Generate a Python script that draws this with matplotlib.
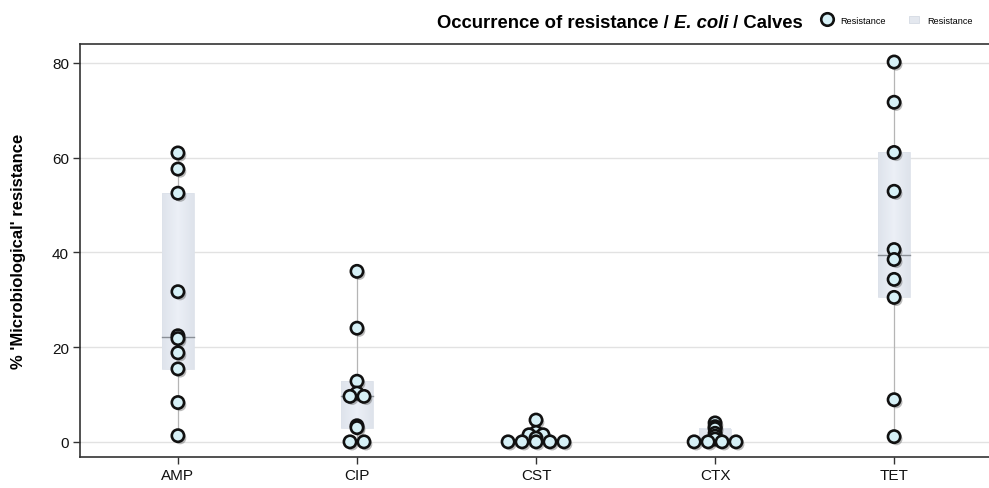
import numpy as np
import matplotlib
matplotlib.use("Agg")
import matplotlib.pyplot as plt
import matplotlib.patheffects as pe
from matplotlib.lines import Line2D
from matplotlib.patches import Patch

plt.rcParams['font.family'] = ['Liberation Sans', 'DejaVu Sans']

# Percent resistance per country for each antimicrobial
categories = ["AMP", "CIP", "CST", "CTX", "TET"]
amp = [61.0, 57.6, 52.5, 31.7, 22.4, 21.8, 18.8, 15.4, 8.3, 1.3]
cip = [36.0, 24.0, 12.8, 10.3, 9.6, 9.6, 3.4, 3.0, 0.0, 0.0]
cst = [4.6, 2.0, 1.5, 1.5, 0.8, 0.0, 0.0, 0.0, 0.0, 0.0]
ctx = [4.0, 3.2, 2.8, 1.8, 1.2, 0.6, 0.0, 0.0, 0.0, 0.0]
tet = [80.2, 71.7, 61.1, 52.9, 40.6, 38.5, 34.3, 30.5, 8.9, 1.1]
series = [amp, cip, cst, ctx, tet]
yticks = [0, 20, 40, 60, 80]

title_parts = [("Occurrence of resistance / ", "normal"),
               ("E. coli", "italic"),
               (" / Calves", "normal")]
ylabel = "% 'Microbiological' resistance"
legend_label = "Resistance"

marker_face = "#d6f0f6"
box_face = "#e4e8ef"
box_width = 0.175
dodge_step = 0.078

fig = plt.figure(figsize=(9.89, 4.89), dpi=100)
ax = fig.add_axes([80 / 989, 1 - 458 / 489, (989 - 80) / 989, (458 - 45) / 489])

ax.set_xlim(-0.547, 4.53)
ax.set_ylim(-3.2, 84.0)

# horizontal gradient used for the interquartile boxes
grad = np.linspace(0, 1, 64)
grad = 1 - 0.55 * np.abs(grad - 0.5) * 2
base = np.array(matplotlib.colors.to_rgb(box_face))
edge_col = np.array(matplotlib.colors.to_rgb("#d3d9e2"))
img = (edge_col[None, :] * (1 - grad[:, None]) + base[None, :] * grad[:, None])
img = np.clip(img + 0.03 * grad[:, None], 0, 1)[None, :, :]

for i, vals in enumerate(series):
    v = np.array(vals, dtype=float)
    q1, med, q3 = np.percentile(v, [25, 50, 75], method="averaged_inverted_cdf")
    # whisker line from min to max
    ax.plot([i, i], [v.min(), v.max()], color="#b5b5b5", lw=0.9, zorder=2)
    # interquartile box with soft gradient
    ax.imshow(img, extent=(i - box_width / 2, i + box_width / 2, q1, q3),
              aspect="auto", zorder=3, interpolation="bilinear")
    ax.add_patch(plt.Rectangle((i - box_width / 2, q1), box_width, q3 - q1,
                               fill=False, ec="#dde2ea", lw=0.6, zorder=3))
    ax.plot([i - box_width / 2, i + box_width / 2], [med, med],
            color="#8a8f96", lw=1.0, zorder=4)

    # spread identical values side by side
    xs = np.full(len(v), float(i))
    for val in np.unique(v):
        idx = np.where(v == val)[0]
        n = len(idx)
        for k, j in enumerate(idx):
            xs[j] = i + (k - (n - 1) / 2) * dodge_step
    sc = ax.scatter(xs, v, s=78, facecolor=marker_face, edgecolor="#111111",
                    linewidths=1.9, zorder=5)
    sc.set_path_effects([pe.SimplePatchShadow(offset=(1.6, -1.8),
                                              shadow_rgbFace="#555555", alpha=0.4),
                         pe.Normal()])

ax.set_xticks(range(len(categories)))
ax.set_xticklabels(categories, fontsize=11)
ax.set_yticks(yticks)
ax.set_yticklabels([str(t) for t in yticks], fontsize=11)
ax.tick_params(axis="both", direction="out", length=5, width=1, color="#333333",
               labelcolor="#111111", pad=3)
ax.yaxis.grid(True, color="#e2e2e2", lw=1.0, zorder=0)
ax.set_axisbelow(True)
for s in ["left", "bottom", "top"]:
    ax.spines[s].set_color("#333333")
    ax.spines[s].set_linewidth(1.2)
ax.spines["right"].set_visible(False)
ax.set_ylabel(ylabel, fontsize=12, fontweight="bold")
ax.yaxis.set_label_coords(-54 / 909, 0.5)

# title assembled from bold and bold-italic pieces
fig.canvas.draw()
renderer = fig.canvas.get_renderer()
x0 = 437
for text, style in title_parts:
    t = fig.text(x0 / 989, 1 - 21 / 489, text, fontsize=13.3, fontweight="bold",
                 fontstyle=style, ha="left", va="center_baseline")
    bb = t.get_window_extent(renderer)
    x0 += bb.width

handles = [Line2D([], [], marker="o", ls="none", markersize=9,
                  markerfacecolor=marker_face, markeredgecolor="#111111",
                  markeredgewidth=1.9),
           Patch(facecolor=box_face, edgecolor="#d5dbe4", lw=0.6)]
fig.legend(handles, [legend_label, legend_label], ncol=2, frameon=False,
           fontsize=6.6, loc="center left", bbox_to_anchor=(822 / 989, 1 - 21 / 489),
           handlelength=1.1, handletextpad=0.9, columnspacing=2.5,
           borderaxespad=0, borderpad=0)

fig.savefig("out.png", dpi=100)
